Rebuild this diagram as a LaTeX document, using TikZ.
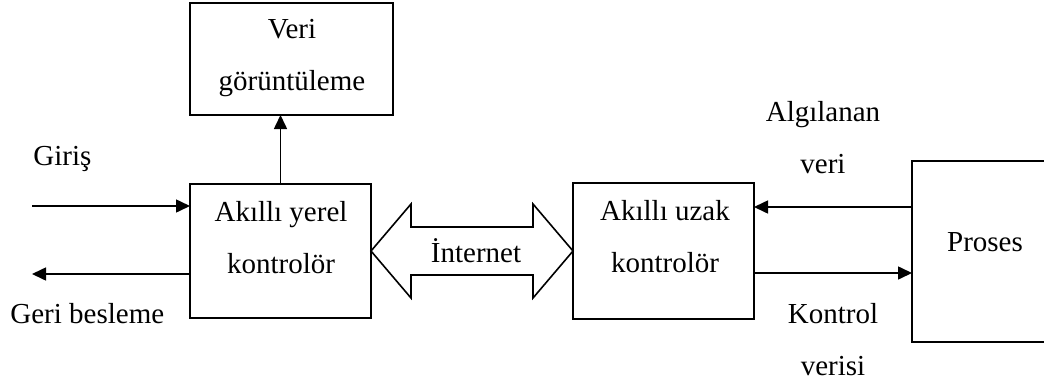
\documentclass[tikz,border=0pt]{standalone}
\usepackage{fontspec}
\setmainfont{Liberation Serif}
\usepackage{amsmath}
\usetikzlibrary{arrows.meta,calc}

\begin{document}
\begin{tikzpicture}[x=0.5pt,y=-0.5pt,
	box/.style={draw,line width=1pt,inner sep=0pt,outer sep=0pt},
	txt/.style={align=center,font=\fontsize{14.5}{26}\selectfont},
	arr/.style={line width=0.8pt,-{Triangle[length=7pt,width=6.5pt]}}]
	
	\useasboundingbox (0,0) rectangle (1044,386);
	
	\node[box,minimum width=101.5pt,minimum height=56pt] (veri) at (291.5,59) {};
	\node[box,minimum width=90.5pt,minimum height=67pt] (yerel) at (280.5,251) {};
	\node[box,minimum width=90.5pt,minimum height=68pt] (uzak) at (663.5,251) {};
	\node[box,minimum width=80pt,minimum height=90.5pt] (proses) at (992,251.5) {};
	
	\node[txt] (veriT) at (292,58) {Veri\\görüntüleme};
	\node[txt] (yerelT) at (281,238) {Akıllı yerel\\kontrolör};
	\node[txt] (uzakT) at (665,237) {Akıllı uzak\\kontrolör};
	\node[txt] (prosesT) at (985,242) {Proses};
	\node[txt] (algT) at (823,138) {Algılanan\\veri};
	\node[txt] (kontT) at (833,340) {Kontrol\\verisi};
	\node[txt,anchor=base west,inner sep=0pt] (girisT) at (33,165) {Giriş};
	\node[txt,anchor=base west,inner sep=0pt] (geriT) at (10,323) {Geri besleme};
	
	% Internet
	\draw[line width=0.8pt] (yerel.east) -- ++(40,-47) -- ++(0,23)
		-- ($(uzak.west)+(-40,-24)$) -- ++(0,-23) -- (uzak.west)
		-- ++(-40,47) -- ++(0,-23) -- ($(yerel.east)+(40,24)$) -- ++(0,23) -- cycle;
	\node[txt,anchor=base,inner sep=0pt] (inetT) at (476,262) {İnternet};
	
	\coordinate (giris) at (32,206);
	\coordinate (geri) at (32,274);
	\coordinate (alg) at (0,207);
	\coordinate (kont) at (0,273);
	
	\draw[arr] (giris) -- (giris -| yerel.west);
	\draw[arr] (geri -| yerel.west) -- (geri);
	\draw[arr] (yerel.north) -- (yerel.north |- veri.south);
	\draw[arr] (alg -| proses.west) -- (alg -| uzak.east);
	\draw[arr] (kont -| uzak.east) -- (kont -| proses.west);
	
\end{tikzpicture}
\end{document}
